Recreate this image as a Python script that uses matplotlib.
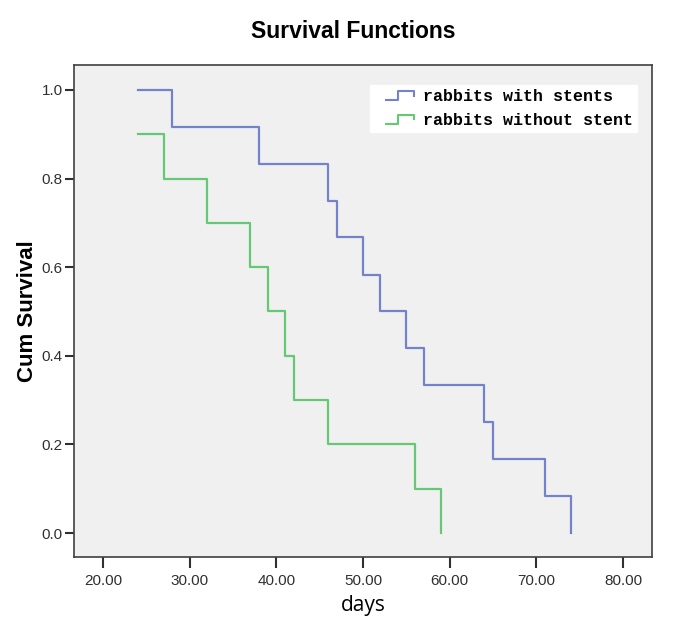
import matplotlib
matplotlib.use('Agg')
import matplotlib.pyplot as plt
from matplotlib.lines import Line2D
from matplotlib.legend_handler import HandlerBase

# Kaplan-Meier step data
days_stent = [24, 28, 38, 46, 47, 50, 52, 55, 57, 64, 65, 71, 74]
surv_stent = [1.0, 0.917, 0.833, 0.75, 0.667, 0.583, 0.5, 0.417, 0.333, 0.25, 0.167, 0.083, 0.0]

days_nostent = [24, 27, 32, 37, 39, 41, 42, 46, 56, 59]
surv_nostent = [0.9, 0.8, 0.7, 0.6, 0.5, 0.4, 0.3, 0.2, 0.1, 0.0]

labels = ['rabbits with stents', 'rabbits without stent']
colors = ['#7483c9', '#66c874']
xticks = [20, 30, 40, 50, 60, 70, 80]
yticks = [0.0, 0.2, 0.4, 0.6, 0.8, 1.0]


class StepHandler(HandlerBase):
    # little step icon like the SPSS legend
    def create_artists(self, legend, orig_handle, xdescent, ydescent,
                       width, height, fontsize, trans):
        x0 = -xdescent + 0.3 * width
        w = 0.7 * width
        y0 = -ydescent
        xs = [x0, x0 + 0.45 * w, x0 + 0.45 * w, x0 + w, x0 + w]
        ys = [y0 + 0.1 * height, y0 + 0.1 * height, y0 + 0.85 * height,
              y0 + 0.85 * height, y0 + 0.5 * height]
        ln = Line2D(xs, ys, color=orig_handle.get_color(), lw=1.5, transform=trans)
        return [ln]


fig = plt.figure(figsize=(6.85, 6.2), dpi=100)
ax = fig.add_axes([0.108, 0.1016, 0.844, 0.7935])
ax.set_facecolor('#f0f0f0')

h1, = ax.step(days_stent, surv_stent, where='post', color=colors[0], lw=1.6)
h2, = ax.step(days_nostent, surv_nostent, where='post', color=colors[1], lw=1.6)

ax.set_xlim(16.65, 83.35)
ax.set_ylim(-0.054, 1.056)
ax.set_xticks(xticks)
ax.set_xticklabels([f'{v:.2f}' for v in xticks])
ax.set_yticks(yticks)
ax.set_yticklabels([f'{v:.1f}' for v in yticks])

for s in ax.spines.values():
    s.set_color('#404040')
    s.set_linewidth(1.2)
ax.tick_params(axis='both', direction='out', width=1.5, color='#303030',
               labelsize=11, labelcolor='#303030')
ax.tick_params(axis='x', length=8, pad=4)
ax.tick_params(axis='y', length=6.5, pad=1.5)
for lab in ax.get_xticklabels() + ax.get_yticklabels():
    lab.set_family('Liberation Sans')

ax.set_xlabel('days', fontsize=15, family='Open Sans', labelpad=5)
ax.set_ylabel('Cum Survival', fontsize=16, family='Liberation Sans',
              fontweight='bold', labelpad=3)
fig.text(0.515, 0.95, 'Survival Functions', fontsize=16.5, family='Liberation Sans',
         fontweight='bold', ha='center', va='center')

leg = ax.legend([h1, h2], labels, loc='upper right', bbox_to_anchor=(0.974, 0.959),
                borderaxespad=0, handler_map={Line2D: StepHandler()},
                prop={'family': 'Liberation Mono', 'weight': 'bold', 'size': 12},
                frameon=True, fancybox=False, handlelength=2.4, handletextpad=0.55,
                labelspacing=0.5, borderpad=0.25)
leg.get_frame().set_facecolor('white')
leg.get_frame().set_edgecolor('white')
leg.get_frame().set_alpha(1)

fig.savefig('out.png', dpi=100)
